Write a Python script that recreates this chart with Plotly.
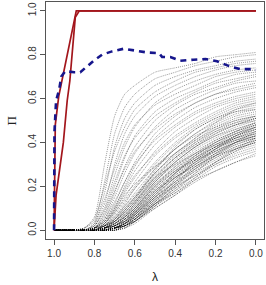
import plotly.graph_objects as go

# lambda grid on which each stability path is read (x axis runs 1 -> 0)
lam_grid = [1.0, 0.9, 0.85, 0.8, 0.75, 0.7, 0.65, 0.6, 0.5, 0.4, 0.3, 0.2, 0.1, 0.0]

# selection probabilities (percent) of the noise variables
upper_paths = [
    [0, 0, 1, 6, 30, 52, 62, 66, 72, 74, 76, 79, 80, 81],
    [0, 0, 1, 4, 22, 44, 56, 62, 69, 72, 75, 77, 79, 80],
    [0, 0, 0, 3, 17, 38, 51, 58, 66, 70, 73, 75, 77, 78],
    [0, 0, 1, 5, 20, 36, 47, 55, 63, 68, 72, 74, 76, 77],
    [0, 0, 0, 2, 12, 30, 44, 52, 61, 66, 70, 73, 75, 76],
    [0, 0, 0, 2, 10, 25, 38, 47, 58, 64, 68, 71, 73, 74],
    [0, 0, 0, 3, 14, 28, 40, 48, 57, 62, 66, 70, 72, 73],
    [0, 0, 0, 1, 8, 20, 33, 43, 54, 60, 64, 68, 71, 72],
    [0, 0, 0, 2, 9, 22, 34, 42, 52, 58, 63, 67, 69, 71],
    [0, 0, 0, 1, 6, 17, 29, 38, 50, 57, 62, 65, 68, 70],
    [0, 0, 0, 1, 5, 15, 26, 35, 47, 55, 60, 64, 67, 68],
    [0, 0, 0, 1, 7, 18, 28, 36, 46, 53, 58, 62, 65, 67],
    [0, 0, 0, 1, 4, 12, 22, 31, 44, 52, 58, 62, 64, 66],
    [0, 0, 0, 0, 3, 10, 20, 29, 42, 50, 56, 60, 63, 65],
]
middle_paths = [
    [0, 0, 0, 1, 5, 13, 22, 30, 41, 48, 54, 58, 61, 63],
    [0, 0, 0, 1, 4, 11, 19, 27, 39, 47, 53, 57, 60, 62],
    [0, 0, 0, 0, 3, 9, 17, 24, 36, 45, 51, 56, 59, 61],
    [0, 0, 0, 1, 4, 10, 18, 25, 35, 43, 49, 54, 58, 60],
    [0, 0, 0, 0, 2, 8, 15, 22, 34, 42, 48, 53, 57, 59],
    [0, 0, 0, 0, 3, 8, 14, 20, 31, 40, 47, 52, 56, 58],
    [0, 0, 0, 0, 2, 6, 12, 19, 30, 39, 46, 51, 55, 57],
    [0, 0, 0, 0, 2, 7, 13, 19, 29, 37, 44, 50, 54, 56],
    [0, 0, 0, 0, 1, 5, 11, 17, 28, 37, 44, 49, 53, 55],
    [0, 0, 0, 0, 2, 6, 11, 16, 26, 35, 42, 48, 52, 54],
    [0, 0, 0, 0, 1, 4, 9, 15, 26, 34, 41, 47, 51, 53],
    [0, 0, 0, 0, 1, 5, 10, 15, 24, 33, 40, 46, 50, 52],
    [0, 0, 0, 0, 1, 4, 8, 13, 23, 32, 39, 45, 49, 52],
    [0, 0, 0, 0, 1, 3, 7, 12, 22, 31, 38, 44, 48, 51],
    [0, 0, 0, 1, 3, 9, 16, 21, 29, 35, 42, 49, 55, 58],
    [0, 0, 0, 0, 2, 5, 9, 14, 27, 38, 46, 51, 54, 55],
]
lower_paths = [
    [0, 0, 0, 1, 2, 5, 10, 15, 28, 37, 43, 47, 50, 52],
    [0, 0, 0, 0, 2, 4, 9, 14, 26, 35, 41, 46, 49, 51],
    [0, 0, 0, 1, 2, 4, 8, 13, 25, 33, 40, 45, 48, 51],
    [0, 0, 0, 0, 1, 4, 8, 13, 24, 33, 39, 44, 48, 50],
    [0, 0, 0, 0, 1, 3, 7, 12, 23, 31, 38, 43, 47, 50],
    [0, 0, 0, 1, 2, 4, 7, 11, 22, 31, 38, 43, 46, 49],
    [0, 0, 0, 0, 1, 3, 6, 11, 22, 30, 37, 42, 46, 49],
    [0, 0, 0, 0, 1, 3, 6, 10, 21, 29, 36, 41, 45, 48],
    [0, 0, 0, 0, 1, 2, 6, 10, 20, 29, 35, 41, 45, 48],
    [0, 0, 0, 0, 1, 3, 6, 10, 20, 28, 35, 40, 44, 47],
    [0, 0, 0, 0, 1, 2, 5, 9, 19, 27, 34, 40, 44, 47],
    [0, 0, 0, 0, 1, 2, 5, 9, 19, 27, 33, 39, 43, 46],
    [0, 0, 0, 0, 0, 2, 5, 9, 18, 26, 33, 38, 43, 46],
    [0, 0, 0, 0, 1, 2, 4, 8, 18, 26, 32, 38, 42, 45],
    [0, 0, 0, 0, 0, 2, 4, 8, 17, 25, 32, 37, 42, 45],
    [0, 0, 0, 0, 0, 1, 4, 8, 17, 25, 31, 37, 41, 44],
    [0, 0, 0, 0, 0, 2, 4, 7, 16, 24, 31, 36, 41, 44],
    [0, 0, 0, 0, 0, 1, 3, 7, 16, 24, 30, 36, 40, 43],
    [0, 0, 0, 0, 0, 1, 3, 7, 15, 23, 30, 35, 40, 43],
    [0, 0, 0, 0, 0, 1, 3, 6, 15, 22, 29, 35, 39, 42],
    [0, 0, 0, 0, 0, 1, 3, 6, 14, 22, 28, 34, 39, 42],
    [0, 0, 0, 0, 0, 1, 3, 6, 14, 21, 28, 33, 38, 41],
    [0, 0, 0, 0, 0, 1, 2, 5, 13, 21, 27, 33, 37, 40],
    [0, 0, 0, 0, 0, 1, 2, 5, 13, 20, 27, 32, 37, 40],
    [0, 0, 0, 0, 0, 1, 2, 5, 12, 19, 26, 31, 36, 39],
    [0, 0, 0, 0, 0, 1, 2, 4, 12, 19, 25, 30, 35, 38],
    [0, 0, 0, 0, 0, 0, 2, 4, 11, 18, 24, 30, 34, 37],
    [0, 0, 0, 0, 0, 0, 2, 4, 11, 17, 23, 29, 33, 36],
    [0, 0, 0, 0, 0, 0, 1, 4, 10, 16, 23, 27, 31, 35],
    [0, 0, 0, 0, 0, 0, 1, 3, 10, 16, 22, 27, 31, 34],
    [0, 0, 0, 0, 1, 3, 6, 12, 24, 30, 35, 39, 42, 44],
    [0, 0, 0, 0, 0, 2, 5, 8, 16, 26, 34, 40, 45, 49],
    [0, 0, 0, 0, 1, 2, 4, 7, 15, 22, 32, 38, 43, 47],
    [0, 0, 0, 0, 0, 1, 4, 9, 20, 27, 32, 36, 40, 42],
    [0, 0, 0, 0, 0, 1, 3, 6, 13, 23, 31, 37, 42, 46],
    [0, 0, 0, 0, 0, 1, 2, 6, 15, 24, 29, 34, 37, 40],
    [0, 0, 0, 0, 0, 1, 3, 5, 12, 18, 26, 34, 40, 45],
    [0, 0, 0, 0, 1, 2, 5, 10, 21, 28, 34, 39, 44, 48],
    [0, 0, 0, 0, 0, 1, 2, 4, 11, 20, 28, 35, 40, 43],
    [0, 0, 0, 0, 0, 1, 2, 5, 14, 20, 25, 31, 36, 41],
    [0, 0, 0, 0, 0, 0, 1, 4, 12, 21, 29, 34, 38, 41],
    [0, 0, 0, 0, 0, 1, 3, 7, 17, 26, 33, 38, 41, 43],
    [0, 0, 0, 0, 0, 0, 2, 5, 12, 17, 24, 31, 37, 42],
    [0, 0, 0, 0, 0, 1, 3, 8, 18, 24, 30, 37, 43, 47],
]

# true signal variables (solid dark red)
red_a_lam = [1.0, 0.997, 0.994, 0.977, 0.94, 0.915, 0.90, 0.89, 0.0]
red_a_pi = [0.0, 0.30, 0.48, 0.61, 0.776, 0.90, 0.97, 1.0, 1.0]
red_b_lam = [1.0, 0.99, 0.954, 0.935, 0.922, 0.913, 0.905, 0.895, 0.875, 0.0]
red_b_pi = [0.0, 0.16, 0.40, 0.59, 0.68, 0.78, 0.90, 0.97, 1.0, 1.0]

# dashed dark blue path
blue_lam = [1.0, 0.998, 0.99, 0.975, 0.964, 0.945, 0.90, 0.87, 0.845, 0.80, 0.762,
            0.713, 0.655, 0.597, 0.54, 0.48, 0.465, 0.424, 0.375, 0.309, 0.25,
            0.193, 0.136, 0.078, 0.02, 0.0]
blue_pi = [0.0, 0.45, 0.59, 0.64, 0.70, 0.725, 0.72, 0.72, 0.74, 0.775, 0.80,
           0.815, 0.827, 0.818, 0.81, 0.807, 0.79, 0.789, 0.772, 0.777, 0.78,
           0.77, 0.749, 0.734, 0.734, 0.73]

x_ticks = [1.0, 0.8, 0.6, 0.4, 0.2, 0.0]
x_tick_text = ["1.0", "0.8", "0.6", "0.4", "0.2", "0.0"]
y_ticks = [0.0, 0.2, 0.4, 0.6, 0.8, 1.0]
y_tick_text = ["0.0", "0.2", "0.4", "0.6", "0.8", "1.0"]

fig = go.Figure()

for path in upper_paths + middle_paths + lower_paths:
    fig.add_trace(go.Scatter(
        x=lam_grid, y=[v / 100 for v in path], mode="lines",
        line=dict(color="rgba(0,0,0,0.5)", width=0.8, dash="1px,1px",
                  shape="spline", smoothing=0.6),
        hoverinfo="skip"))

for lx, ly in [(red_a_lam, red_a_pi), (red_b_lam, red_b_pi)]:
    fig.add_trace(go.Scatter(x=lx, y=ly, mode="lines",
                             line=dict(color="#a3161c", width=1.7)))

fig.add_trace(go.Scatter(x=blue_lam, y=blue_pi, mode="lines",
                         line=dict(color="#16168c", width=2.6, dash="6px,5px")))

font = dict(family="Liberation Sans, Arial, sans-serif", size=10, color="#333")
axis_common = dict(showline=True, mirror=True, linecolor="#555", linewidth=1,
                   ticks="outside", ticklen=5, tickcolor="#555", tickwidth=1,
                   showgrid=False, zeroline=False, tickfont=font)

fig.update_layout(
    width=266, height=285,
    margin=dict(l=46, r=2, t=2, b=46),
    paper_bgcolor="white", plot_bgcolor="white",
    showlegend=False,
    xaxis=dict(range=[1.04, -0.04], tickvals=x_ticks, ticktext=x_tick_text,
               **axis_common),
    yaxis=dict(range=[-0.04, 1.04], tickvals=y_ticks, ticktext=y_tick_text,
               tickangle=-90, **axis_common),
    annotations=[
        dict(text="λ", xref="paper", yref="paper", x=0.5, y=-0.162,
             xanchor="center", yanchor="middle", showarrow=False,
             font=dict(family="Liberation Sans, Arial, sans-serif", size=12, color="#222")),
        dict(text="Π", xref="paper", yref="paper", x=-0.156, y=0.5,
             xanchor="center", yanchor="middle", showarrow=False, textangle=-90,
             font=dict(family="Liberation Serif, DejaVu Serif, serif", size=13, color="#222")),
    ],
)

fig.write_html("out.html", config={"displayModeBar": False},
               post_script="document.body.style.margin='0';document.body.style.padding='0';")
